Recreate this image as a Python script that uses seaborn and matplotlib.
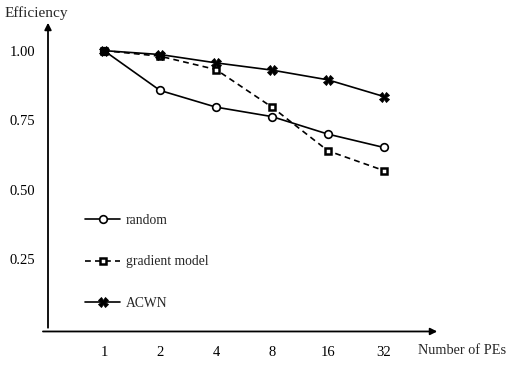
import matplotlib
matplotlib.use("Agg")
import matplotlib.pyplot as plt
import seaborn as sns
import pandas as pd
import numpy as np
from matplotlib.lines import Line2D

sns.set_style("white")
plt.rcParams['font.family'] = ['Liberation Serif', 'DejaVu Serif']

pes = [1, 2, 4, 8, 16, 32]
random_eff = [1.00, 0.857, 0.797, 0.763, 0.700, 0.652]
gradient_eff = [1.00, 0.980, 0.932, 0.797, 0.640, 0.569]
acwn_eff = [1.00, 0.986, 0.956, 0.930, 0.895, 0.835]
series = ["random", "gradient model", "ACWN"]
yticks = [0.25, 0.50, 0.75, 1.00]

df = pd.DataFrame({
    "pes": pes * 3,
    "eff": random_eff + gradient_eff + acwn_eff,
    "series": [series[0]] * 6 + [series[1]] * 6 + [series[2]] * 6,
})

fig = plt.figure(figsize=(5.22, 3.66), dpi=100)
ax = fig.add_axes([48 / 522, 37 / 366, 392 / 522, 309 / 366])

styles = {
    "random": dict(ls="-", marker="o", mfc="white", ms=5.5, mew=1.2),
    "gradient model": dict(ls=(0, (3.5, 2.5)), marker="s", mfc="white", ms=4, mew=1.8),
    "ACWN": dict(ls="-", marker="X", mfc="black", ms=6.5, mew=0.6),
}
for s in series:
    st = styles[s]
    sns.lineplot(data=df[df.series == s], x="pes", y="eff", ax=ax, color="black",
                 linestyle=st["ls"], marker=st["marker"], markerfacecolor=st["mfc"],
                 markeredgecolor="black", markersize=st["ms"], markeredgewidth=st["mew"],
                 linewidth=1.2, label=s, legend=False)

ax.set_xscale("log", base=2)
ax.set_xlim(0.5, 64)
ax.set_ylim(0, 1.11)
ax.set_xticks(pes)
ax.set_xticklabels([str(p) for p in pes], fontsize=10.5)
ax.minorticks_off()
ax.set_yticks(yticks)
ax.set_yticklabels([f"{v:.2f}" for v in yticks], fontsize=10.5)
ax.tick_params(axis="both", direction="in", length=3, width=0.8, colors="black")
ax.tick_params(axis="y", pad=9)
ax.tick_params(axis="x", pad=12)
ax.set_xlabel("")
ax.set_ylabel("")
for sp in ax.spines.values():
    sp.set_visible(False)

# arrowed axes
ax.annotate("", xy=(0, 1.0), xytext=(0, -0.005), xycoords="axes fraction",
            arrowprops=dict(arrowstyle="-|>", color="black", lw=1.3, mutation_scale=10))
ax.annotate("", xy=(1.0, -0.008), xytext=(-0.02, -0.008), xycoords="axes fraction",
            arrowprops=dict(arrowstyle="-|>", color="black", lw=1.3, mutation_scale=10))

fig.text(5 / 522, 1 - 13 / 366, "Efficiency", fontsize=11, va="center", ha="left")
fig.text(418 / 522, 1 - 351 / 366, "Number of PEs", fontsize=10.3, va="center", ha="left")

handles = []
for s in series:
    st = styles[s]
    handles.append(Line2D([], [], color="black", linestyle=st["ls"], marker=st["marker"],
                          markerfacecolor=st["mfc"], markeredgecolor="black",
                          markersize=st["ms"], markeredgewidth=st["mew"], linewidth=1.2))
ax.legend(handles, series, loc="upper left", bbox_to_anchor=(37 / 392, (329 - 214) / 309),
          frameon=False, fontsize=9.8, labelspacing=2.08, handlelength=2.6,
          handletextpad=0.4, borderpad=0, borderaxespad=0)

fig.savefig("out.png", dpi=100)
